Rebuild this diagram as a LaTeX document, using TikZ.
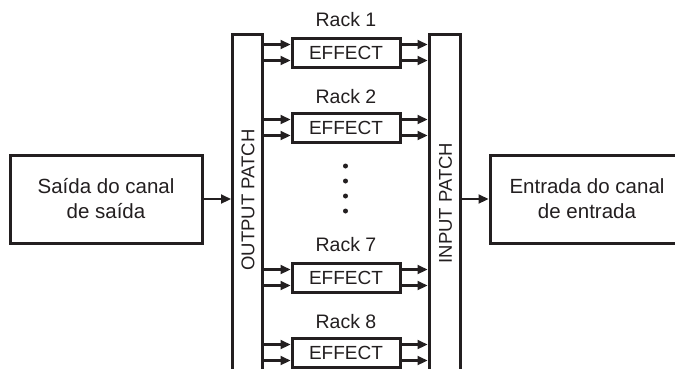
\documentclass[tikz,border=0pt]{standalone}
\usepackage{fontspec}
\setmainfont{Liberation Sans}
\usetikzlibrary{arrows.meta}
\definecolor{ink}{HTML}{231F20}
\tikzset{
  boxline/.style={draw=ink, line width=3pt, fill=white, inner sep=0pt},
  bigbox/.style={boxline, minimum width=192pt, minimum height=88pt, align=center,
                 text=ink, font=\fontsize{20.5}{25}\selectfont},
  patchbar/.style={boxline, minimum width=30pt, minimum height=346pt},
  patchtext/.style={rotate=90, inner sep=0pt, text=ink, font=\fontsize{18.5}{22}\selectfont},
  effbox/.style={boxline, minimum width=108pt, minimum height=29pt, text=ink,
                 font=\fontsize{19}{22}\selectfont},
  racklabel/.style={inner sep=0pt, text=ink, font=\fontsize{19.5}{23}\selectfont},
  arr/.style={draw=ink, line width=2.2pt, -{Triangle[length=10pt,width=9pt]}},
  dotmark/.style={circle, fill=ink, inner sep=0pt, minimum size=5pt}
}
\begin{document}
\begin{tikzpicture}[x=1pt, y=-1pt]
\useasboundingbox (0,0) rectangle (675,368);
\clip (0,0) rectangle (675,368);
\fill[white] (0,0) rectangle (675,368);

\node[bigbox] (lb) at (106,199) {Saída do canal\\de saída};
\node[bigbox, minimum width=194pt] (rb) at (587,199) {Entrada do canal\\de entrada};

\node[patchbar] (op) at (247.5,207) {};
\node[patchbar, minimum width=31pt] (ip) at (444.5,207) {};
\node[patchtext] (opt) at (248,200) {OUTPUT PATCH};
\node[patchtext] (ipt) at (445.5,203) {INPUT PATCH};

\node[effbox] (e1) at (346,52.5) {EFFECT};
\node[effbox] (e2) at (346,127.5) {EFFECT};
\node[effbox] (e7) at (346,277.5) {EFFECT};
\node[effbox] (e8) at (346,352.5) {EFFECT};

\node[racklabel] (r1) at (346,20) {Rack 1};
\node[racklabel] (r2) at (346,96.5) {Rack 2};
\node[racklabel] (r7) at (346,244.5) {Rack 7};
\node[racklabel] (r8) at (346,322) {Rack 8};

\foreach \e in {e1,e2,e7,e8}{
  \foreach \s in {-8,8}{
    \draw[arr] ([yshift=\s pt]\e.west -| op.east) -- ([yshift=\s pt]\e.west);
    \draw[arr] ([yshift=\s pt]\e.east) -- ([yshift=\s pt]\e.east -| ip.west);
  }
}

\draw[arr] (lb.east) -- (lb.east -| op.west);
\draw[arr] (rb.west -| ip.east) -- (rb.west);

\node[dotmark] (d1) at (345.5,166) {};
\node[dotmark] (d2) at (345.5,181) {};
\node[dotmark] (d3) at (345.5,196) {};
\node[dotmark] (d4) at (345.5,211) {};
\end{tikzpicture}
\end{document}
